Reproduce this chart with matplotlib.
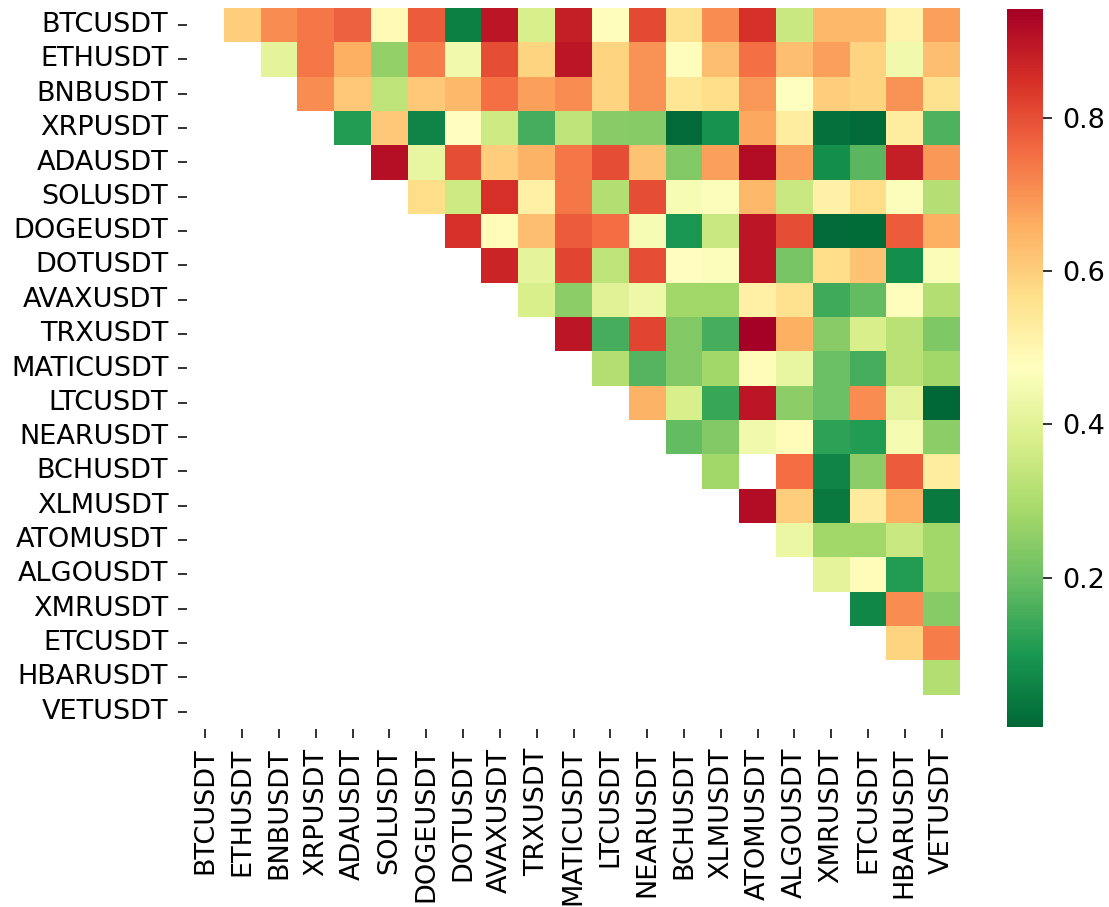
import matplotlib
matplotlib.use("Agg")
import matplotlib.pyplot as plt
import numpy as np
import seaborn as sns

symbols = ['BTCUSDT', 'ETHUSDT', 'BNBUSDT', 'XRPUSDT', 'ADAUSDT', 'SOLUSDT',
           'DOGEUSDT', 'DOTUSDT', 'AVAXUSDT', 'TRXUSDT', 'MATICUSDT', 'LTCUSDT',
           'NEARUSDT', 'BCHUSDT', 'XLMUSDT', 'ATOMUSDT', 'ALGOUSDT', 'XMRUSDT',
           'ETCUSDT', 'HBARUSDT', 'VETUSDT']

# upper triangle, row i holds columns i+1 .. 20
upper = [
    [0.60, 0.71, 0.74, 0.77, 0.49, 0.78, 0.05, 0.90, 0.38, 0.88, 0.48, 0.81, 0.56, 0.71, 0.85, 0.35, 0.64, 0.64, 0.51, 0.68],
    [0.41, 0.74, 0.66, 0.26, 0.73, 0.44, 0.80, 0.59, 0.90, 0.59, 0.70, 0.48, 0.63, 0.75, 0.63, 0.68, 0.59, 0.44, 0.63],
    [0.71, 0.61, 0.33, 0.61, 0.64, 0.75, 0.68, 0.71, 0.59, 0.70, 0.55, 0.57, 0.69, 0.47, 0.60, 0.59, 0.70, 0.56],
    [0.11, 0.61, 0.06, 0.475, 0.36, 0.155, 0.33, 0.245, 0.24, 0.01, 0.09, 0.67, 0.53, 0.02, 0.012, 0.53, 0.165],
    [0.91, 0.42, 0.80, 0.60, 0.65, 0.74, 0.80, 0.62, 0.235, 0.68, 0.915, 0.68, 0.08, 0.18, 0.88, 0.69],
    [0.57, 0.36, 0.85, 0.52, 0.74, 0.31, 0.80, 0.455, 0.465, 0.645, 0.35, 0.515, 0.57, 0.465, 0.315],
    [0.85, 0.485, 0.63, 0.78, 0.755, 0.455, 0.10, 0.35, 0.90, 0.80, 0.01, 0.015, 0.78, 0.66],
    [0.87, 0.41, 0.815, 0.33, 0.80, 0.475, 0.465, 0.90, 0.22, 0.57, 0.62, 0.08, 0.46],
    [0.38, 0.25, 0.40, 0.43, 0.28, 0.28, 0.52, 0.56, 0.145, 0.19, 0.48, 0.31],
    [0.90, 0.155, 0.815, 0.235, 0.155, 0.942, 0.66, 0.245, 0.38, 0.32, 0.23],
    [0.31, 0.17, 0.235, 0.28, 0.485, 0.42, 0.20, 0.155, 0.32, 0.28],
    [0.65, 0.38, 0.135, 0.90, 0.25, 0.20, 0.71, 0.41, 0.005],
    [0.19, 0.235, 0.44, 0.485, 0.125, 0.11, 0.445, 0.25],
    [0.28, np.nan, 0.755, 0.06, 0.25, 0.78, 0.53],
    [0.915, 0.60, 0.04, 0.535, 0.66, 0.04],
    [0.425, 0.28, 0.28, 0.35, 0.28],
    [0.41, 0.485, 0.11, 0.28],
    [0.065, 0.71, 0.24],
    [0.59, 0.73],
    [0.31],
    [],
]

n = len(symbols)
corr = np.full((n, n), np.nan)
for i, row in enumerate(upper):
    corr[i, i + 1:] = row

plt.rcParams['font.family'] = ['DejaVu Sans']
plt.rcParams['font.size'] = 19.5

fig = plt.figure(figsize=(11.09, 9.07), dpi=100)
ax = fig.add_axes([187 / 1109, 1 - 729 / 907, 773 / 1109, 721 / 907])
cax = fig.add_axes([1007 / 1109, 1 - 727 / 907, 36 / 1109, 718 / 907])

sns.heatmap(corr, cmap='RdYlGn_r', mask=np.isnan(corr), ax=ax, cbar_ax=cax,
            xticklabels=symbols, yticklabels=symbols)

ax.tick_params(axis='both', length=6.5, width=1.3, pad=7, labelsize=19.5, color='#222222')
ax.set_xticklabels(symbols, rotation=90)
ax.set_yticklabels(symbols, rotation=0)
cax.tick_params(length=6.5, width=1.3, pad=7, labelsize=19.5, color='#222222')
cax.set_yticks([0.2, 0.4, 0.6, 0.8])
for sp in cax.spines.values():
    sp.set_visible(False)

plt.savefig('out.png', dpi=100)
